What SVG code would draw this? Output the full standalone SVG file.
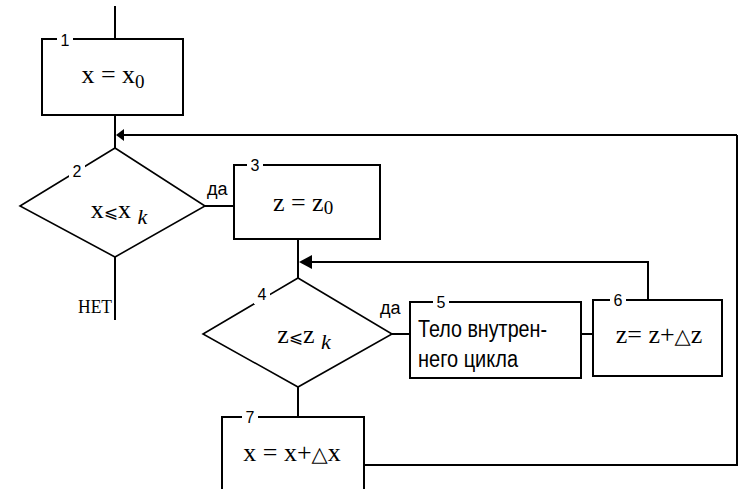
<svg xmlns="http://www.w3.org/2000/svg" width="739" height="489" viewBox="0 0 739 489">
<style>
.box{fill:none;stroke:#000;stroke-width:2}
.dia{fill:none;stroke:#000;stroke-width:1.6}
.ln{fill:none;stroke:#000;stroke-width:2}
.num{font-family:"Liberation Sans",Arial,sans-serif;font-size:16px;fill:#000;text-anchor:middle}
.gap{fill:#fff;stroke:none}
.math{font-family:"Liberation Serif","Times New Roman",serif;font-size:26px;fill:#000;text-anchor:middle}
.sym{font-family:"DejaVu Sans",sans-serif;font-size:17px}
.tri{font-family:"DejaVu Sans",sans-serif;font-size:21px}
.sans{font-family:"Liberation Sans",Arial,sans-serif;font-size:23px;fill:#000}
.lbl{font-family:"Liberation Sans",Arial,sans-serif;font-size:18px;fill:#000}
</style>
<rect width="739" height="489" fill="#fff"/>
<g id="connectors">
<polyline class="ln" points="115,6 115,39"/>
<polyline class="ln" points="115,115 115,148"/>
<polyline class="ln" points="737,135 737,465 364,465"/>
<polyline class="ln" points="737,135 118,135"/>
<polygon points="116,135 124,129 124,141" fill="#000"/>
<polyline class="ln" points="115,257 115,320"/>
<polyline class="ln" points="205,206 234,206"/>
<polyline class="ln" points="298,239 298,278"/>
<polyline class="ln" points="648,300 648,262 302,262"/>
<polygon points="299,262 312,255 312,269" fill="#000"/>
<polyline class="ln" points="392,334 410,334"/>
<polyline class="ln" points="581,334 593,334"/>
<polyline class="ln" points="298,387 298,417"/>
</g>
<g id="n1">
<rect class="box" x="42" y="39" width="141" height="76"/>
<rect class="gap" x="57" y="33" width="16" height="12"/>
<text class="num" x="65" y="46">1</text>
<text class="math" x="113" y="83">x = x<tspan font-size="19" dy="5">0</tspan></text>
</g>
<g id="n2">
<polygon class="dia" points="115,148 205,206 115,257 20,206"/>
<rect class="gap" x="69" y="162" width="16" height="18"/>
<text class="num" x="77" y="177">2</text>
<text class="math" x="119" y="218">x<tspan class="sym">⩽</tspan>x <tspan font-style="italic" font-size="22" dy="6">k</tspan></text>
<text class="lbl" x="207" y="195">да</text>
<text x="78" y="313" font-family="Liberation Serif,serif" font-size="19" textLength="34" lengthAdjust="spacingAndGlyphs">НЕТ</text>
</g>
<g id="n3">
<rect class="box" x="234" y="165" width="146" height="74"/>
<rect class="gap" x="247" y="159" width="16" height="12"/>
<text class="num" x="255" y="171">3</text>
<text class="math" x="303" y="211">z = z<tspan font-size="19" dy="3">0</tspan></text>
</g>
<g id="n4">
<polygon class="dia" points="298,278 392,334 298,387 203,334"/>
<rect class="gap" x="254" y="286" width="16" height="18"/>
<text class="num" x="262" y="300">4</text>
<text class="math" x="304" y="343">z<tspan class="sym">⩽</tspan>z <tspan font-style="italic" font-size="22" dy="6">k</tspan></text>
<text class="lbl" x="380" y="314">да</text>
</g>
<g id="n5">
<rect class="box" x="410" y="302" width="171" height="76"/>
<rect class="gap" x="433" y="296" width="16" height="12"/>
<text class="num" x="441" y="308">5</text>
<text class="sans" x="418" y="337" textLength="129" lengthAdjust="spacingAndGlyphs">Тело внутрен-</text>
<text class="sans" x="418" y="367" textLength="100" lengthAdjust="spacingAndGlyphs">него цикла</text>
</g>
<g id="n6">
<rect class="box" x="593" y="300" width="129" height="76"/>
<rect class="gap" x="610" y="294" width="16" height="12"/>
<text class="num" x="618" y="306">6</text>
<text class="math" x="659" y="343">z= z+<tspan class="tri">△</tspan>z</text>
</g>
<g id="n7">
<rect class="box" x="222" y="417" width="142" height="90"/>
<rect class="gap" x="242" y="411" width="16" height="12"/>
<text class="num" x="250" y="423">7</text>
<text class="math" x="292" y="461">x = x+<tspan class="tri">△</tspan>x</text>
</g>
</svg>
